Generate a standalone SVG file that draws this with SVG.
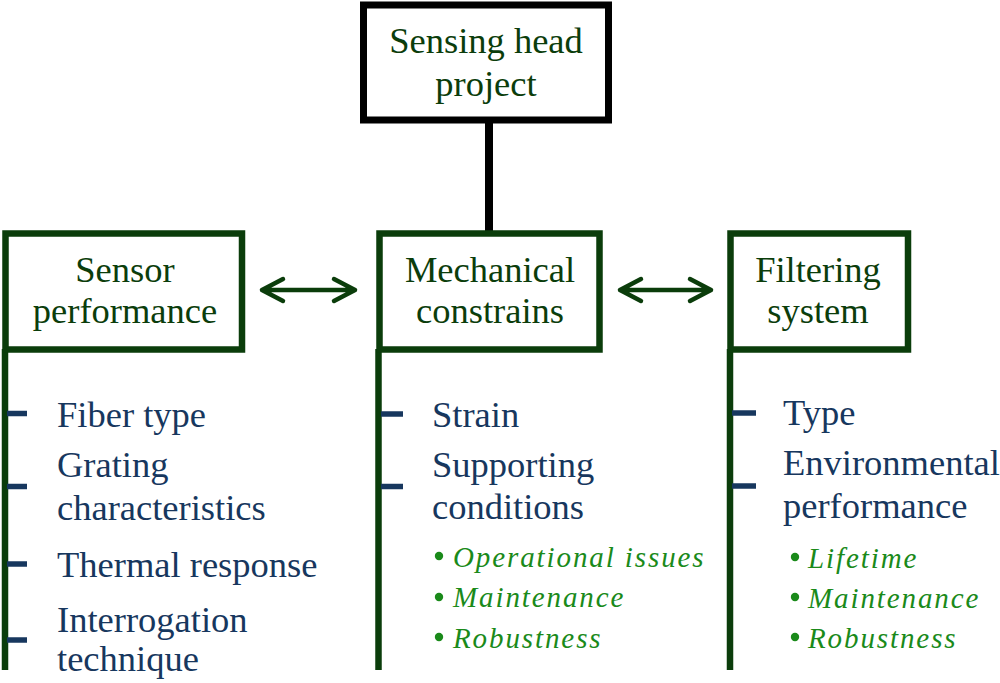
<svg xmlns="http://www.w3.org/2000/svg" width="1000" height="683" viewBox="0 0 1000 683">
<style>
.box{fill:#fff;stroke:#0b3d0b;stroke-width:6.5}
.top{fill:#fff;stroke:#000;stroke-width:7}
.bt{font-family:"Liberation Serif","Times New Roman",serif;font-size:36.5px;fill:#0b3d0b;text-anchor:middle}
.it{font-family:"Liberation Serif","Times New Roman",serif;font-size:36.5px;fill:#17375e}
.sub{font-family:"Liberation Serif","Times New Roman",serif;font-size:29px;font-style:italic;fill:#1a8a1a;letter-spacing:1.9px}
.dot{fill:#1a8a1a}
.dash{stroke:#17375e;stroke-width:5.5}
.vl{stroke:#0b3d0b;stroke-width:6.5;fill:none}
.arr{stroke:#0b3d0b;stroke-width:4.5;fill:none;stroke-linecap:round;stroke-linejoin:round}
</style>
<rect width="1000" height="683" fill="#fff"/>
<g id="connectors">
<line x1="489" y1="120" x2="489" y2="233" stroke="#000" stroke-width="8"/>
<line class="vl" x1="5" y1="349" x2="5" y2="670"/>
<line class="vl" x1="378.5" y1="349" x2="378.5" y2="670"/>
<line class="vl" x1="730" y1="349" x2="730" y2="670"/>
<path class="arr" d="M262 290H355M283 279L262 290L283 301M334 279L355 290L334 301"/>
<path class="arr" d="M620 290H711M641 279L620 290L641 301M690 279L711 290L690 301"/>
</g>
<g id="node-top">
<rect class="top" x="363.5" y="5" width="245" height="115"/>
<text class="bt" x="486" y="53">Sensing head</text>
<text class="bt" x="486" y="96">project</text>
</g>
<g id="node-sensor">
<rect class="box" x="5.5" y="233.5" width="236.5" height="116"/>
<text class="bt" x="125" y="282">Sensor</text>
<text class="bt" x="125" y="323">performance</text>
<line class="dash" x1="7" y1="413.5" x2="27" y2="413.5"/>
<text class="it" x="57" y="427">Fiber type</text>
<line class="dash" x1="7" y1="486.5" x2="27" y2="486.5"/>
<text class="it" x="57" y="477">Grating</text>
<text class="it" x="57" y="520">characteristics</text>
<line class="dash" x1="7" y1="564" x2="27" y2="564"/>
<text class="it" x="57" y="577">Thermal response</text>
<line class="dash" x1="7" y1="640" x2="27" y2="640"/>
<text class="it" x="57" y="632">Interrogation</text>
<text class="it" x="57" y="671">technique</text>
</g>
<g id="node-mech">
<rect class="box" x="379.5" y="233.5" width="220" height="116"/>
<text class="bt" x="490" y="282">Mechanical</text>
<text class="bt" x="490" y="323">constrains</text>
<line class="dash" x1="381" y1="414" x2="403" y2="414"/>
<text class="it" x="432" y="427">Strain</text>
<line class="dash" x1="381" y1="486.5" x2="403" y2="486.5"/>
<text class="it" x="432" y="477">Supporting</text>
<text class="it" x="432" y="519">conditions</text>
<circle class="dot" cx="439" cy="556" r="4.2"/>
<text class="sub" x="453" y="567">Operational issues</text>
<circle class="dot" cx="439" cy="597" r="4.2"/>
<text class="sub" x="453" y="607">Maintenance</text>
<circle class="dot" cx="439" cy="637" r="4.2"/>
<text class="sub" x="453" y="648">Robustness</text>
</g>
<g id="node-filter">
<rect class="box" x="730.5" y="233.5" width="177.5" height="116"/>
<text class="bt" x="818" y="282">Filtering</text>
<text class="bt" x="818" y="323">system</text>
<line class="dash" x1="732" y1="413" x2="756" y2="413"/>
<text class="it" x="783" y="425">Type</text>
<line class="dash" x1="732" y1="486" x2="756" y2="486"/>
<text class="it" x="783" y="475">Environmental</text>
<text class="it" x="783" y="518">performance</text>
<circle class="dot" cx="795" cy="557" r="4.2"/>
<text class="sub" x="808" y="568">Lifetime</text>
<circle class="dot" cx="795" cy="597" r="4.2"/>
<text class="sub" x="808" y="608">Maintenance</text>
<circle class="dot" cx="795" cy="637" r="4.2"/>
<text class="sub" x="808" y="648">Robustness</text>
</g>
</svg>
